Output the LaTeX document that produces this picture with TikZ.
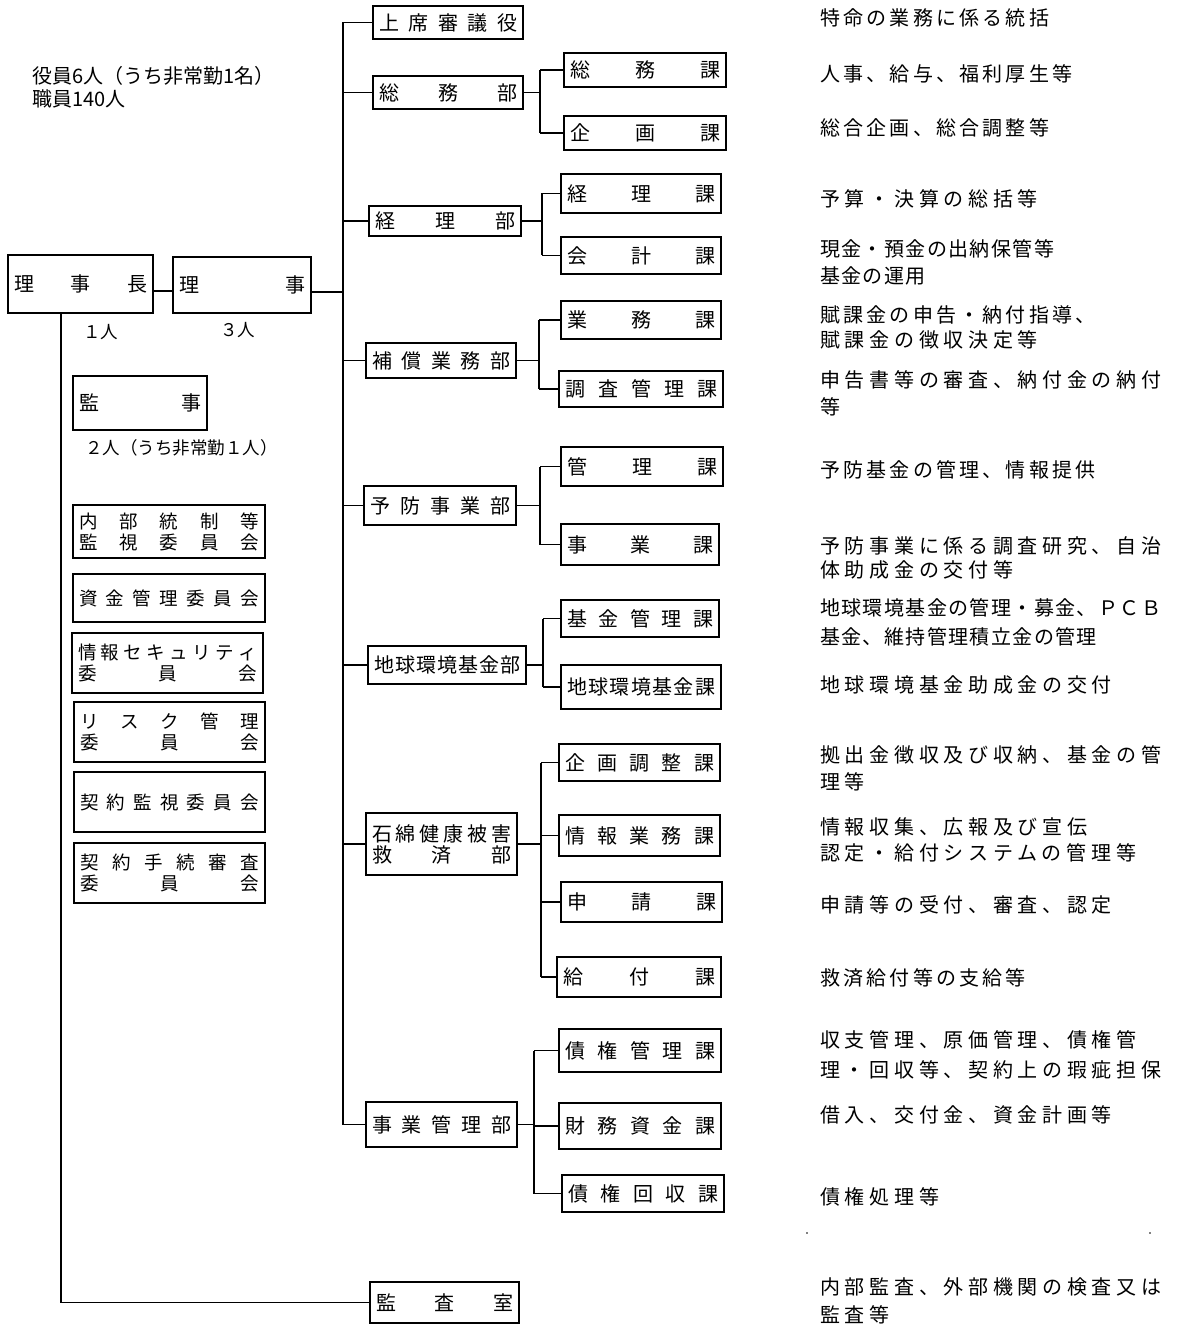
\documentclass[tikz,border=0pt]{standalone}
\usepackage{fontspec}
\setmainfont{Noto Sans CJK JP}
\newfontfamily\rA[LetterSpace=23.5]{Noto Sans CJK JP}
\newfontfamily\rB[LetterSpace=16]{Noto Sans CJK JP}
\newfontfamily\rC[LetterSpace=7]{Noto Sans CJK JP}
\newcommand\rowx[1]{\hbox to \tw pt{#1}}
\newcommand\tworow[2]{\vbox{\baselineskip=21pt\lineskiplimit=-20pt\rowx{#1}\rowx{#2}}}
\newcommand\bx[7][box]{%
  \pgfmathsetmacro\bw{#5-#3}%
  \pgfmathsetmacro\bh{#6-#4}%
  \pgfmathsetmacro\tw{#5-#3-12}%
  \node[#1,minimum width=\bw pt,minimum height=\bh pt] (#2) at ({(#3+#5)/2},{(#4+#6)/2}) {#7};}
\newcommand\grp[5]{% parent, bracket x, first, last, children
  \coordinate (B) at (#2,0);
  \draw[conn] (#1.east) -- (B |- #1.east);
  \draw[conn] (B |- #3.west) -- (B |- #4.west);
  \foreach \c in {#5} {\draw[conn] (B |- \c.west) -- (\c.west);}}
\begin{document}
\begin{tikzpicture}[x=1pt,y=-1pt,
  box/.style={draw,line width=1.3pt,inner sep=0pt,font=\fontsize{20}{21}\selectfont},
  cbox/.style={box,font=\fontsize{18.5}{21}\selectfont},
  conn/.style={line width=1.4pt},
  dA/.style={anchor=west,inner sep=0pt,font={\rA\fontsize{20}{24}\selectfont}},
  dB/.style={anchor=west,inner sep=0pt,font={\rB\fontsize{20}{24}\selectfont}},
  dC/.style={anchor=west,inner sep=0pt,font={\rC\fontsize{20}{24}\selectfont}},
  note/.style={anchor=west,inner sep=0pt,font=\fontsize{20}{24}\selectfont},
  small/.style={anchor=west,inner sep=0pt,font=\fontsize{17.5}{20}\selectfont}]
\useasboundingbox (0,0) rectangle (1177,1329);
\fill[white] (0,0) rectangle (1177,1329);

% header text
\node[note] (hd1) at (32,76) {役員6人（うち非常勤1名）};
\node[note] (hd2) at (32,99) {職員140人};

% executives
\bx{rijicho}{8}{255}{153}{313}{\rowx{理\hfill 事\hfill 長}}
\bx{riji}{173}{257}{311}{313}{\rowx{理\hfill 事}}
\node[small] (n1) at (83,332) {１人};
\node[small] (n3) at (220,330) {３人};
\bx{kanji}{73}{376}{207}{430}{\rowx{監\hfill 事}}
\node[small] (n2) at (85,448) {２人（うち非常勤１人）};

% committees
\bx[cbox]{c1}{73}{505}{265}{558}{\tworow{内\hfill 部\hfill 統\hfill 制\hfill 等}{監\hfill 視\hfill 委\hfill 員\hfill 会}}
\bx[cbox]{c2}{73}{574}{265}{622}{\rowx{資\hfill 金\hfill 管\hfill 理\hfill 委\hfill 員\hfill 会}}
\bx[cbox]{c3}{72}{633}{263}{693}{\tworow{情\hfill 報\hfill セ\hfill キ\hfill ュ\hfill リ\hfill テ\hfill ィ}{委\hfill 員\hfill 会}}
\bx[cbox]{c4}{74}{702}{265}{762}{\tworow{リ\hfill ス\hfill ク\hfill 管\hfill 理}{委\hfill 員\hfill 会}}
\bx[cbox]{c5}{74}{772}{265}{832}{\rowx{契\hfill 約\hfill 監\hfill 視\hfill 委\hfill 員\hfill 会}}
\bx[cbox]{c6}{74}{843}{265}{903}{\tworow{契\hfill 約\hfill 手\hfill 続\hfill 審\hfill 査}{委\hfill 員\hfill 会}}

% departments
\bx{jseki}{373}{6}{523}{39}{\rowx{上\hfill 席\hfill 審\hfill 議\hfill 役}}
\bx{somubu}{373}{76}{523}{109}{\rowx{総\hfill 務\hfill 部}}
\bx{keiribu}{369}{206}{521}{236}{\rowx{経\hfill 理\hfill 部}}
\bx{hosho}{366}{343}{516}{378}{\rowx{補\hfill 償\hfill 業\hfill 務\hfill 部}}
\bx{yobo}{364}{486}{516}{525}{\rowx{予\hfill 防\hfill 事\hfill 業\hfill 部}}
\bx{chikyu}{368}{646}{526}{684}{\rowx{地\hfill 球\hfill 環\hfill 境\hfill 基\hfill 金\hfill 部}}
\bx{sekimen}{366}{813}{517}{875}{\tworow{石\hfill 綿\hfill 健\hfill 康\hfill 被\hfill 害}{救\hfill 済\hfill 部}}
\bx{jigyokanri}{366}{1102}{517}{1147}{\rowx{事\hfill 業\hfill 管\hfill 理\hfill 部}}
\bx{kansa}{370}{1282}{519}{1323}{\rowx{監\hfill 査\hfill 室}}

% sections
\bx{somuka}{564}{53}{726}{87}{\rowx{総\hfill 務\hfill 課}}
\bx{kikakuka}{564}{116}{726}{150}{\rowx{企\hfill 画\hfill 課}}
\bx{keirika}{561}{174}{721}{213}{\rowx{経\hfill 理\hfill 課}}
\bx{kaikeika}{561}{237}{721}{274}{\rowx{会\hfill 計\hfill 課}}
\bx{gyomuka}{561}{301}{721}{339}{\rowx{業\hfill 務\hfill 課}}
\bx{chosa}{559}{371}{723}{407}{\rowx{調\hfill 査\hfill 管\hfill 理\hfill 課}}
\bx{kanrika}{561}{447}{723}{486}{\rowx{管\hfill 理\hfill 課}}
\bx{jigyoka}{561}{524}{719}{565}{\rowx{事\hfill 業\hfill 課}}
\bx{kikin}{561}{600}{719}{637}{\rowx{基\hfill 金\hfill 管\hfill 理\hfill 課}}
\bx{chikyuka}{561}{665}{721}{709}{\rowx{地\hfill 球\hfill 環\hfill 境\hfill 基\hfill 金\hfill 課}}
\bx{kikakuchosei}{559}{744}{720}{781}{\rowx{企\hfill 画\hfill 調\hfill 整\hfill 課}}
\bx{joho}{559}{815}{720}{856}{\rowx{情\hfill 報\hfill 業\hfill 務\hfill 課}}
\bx{shinsei}{561}{882}{722}{922}{\rowx{申\hfill 請\hfill 課}}
\bx{kyufu}{557}{957}{721}{997}{\rowx{給\hfill 付\hfill 課}}
\bx{saiken}{559}{1029}{721}{1072}{\rowx{債\hfill 権\hfill 管\hfill 理\hfill 課}}
\bx{zaimu}{559}{1103}{721}{1149}{\rowx{財\hfill 務\hfill 資\hfill 金\hfill 課}}
\bx{kaishu}{562}{1175}{724}{1212}{\rowx{債\hfill 権\hfill 回\hfill 収\hfill 課}}

% connectors
\coordinate (T) at (343,0);
\coordinate (V) at (61,0);
\coordinate (rl) at ([yshift=-7pt]rijicho.east);
\coordinate (rr) at ([yshift=-7pt]riji.east);
\draw[conn] (rl) -- (riji.west |- rl);
\draw[conn] (rr) -- (T |- rr);
\draw[conn] (T |- jseki.west) -- (T |- jigyokanri.west);
\foreach \n in {jseki,somubu,keiribu,hosho,yobo,chikyu,sekimen,jigyokanri}
  {\draw[conn] (T |- \n.west) -- (\n.west);}
\grp{somubu}{540}{somuka}{kikakuka}{somuka,kikakuka}
\grp{keiribu}{542}{keirika}{kaikeika}{keirika,kaikeika}
\grp{hosho}{539}{gyomuka}{chosa}{gyomuka,chosa}
\grp{yobo}{540}{kanrika}{jigyoka}{kanrika,jigyoka}
\grp{chikyu}{543}{kikin}{chikyuka}{kikin,chikyuka}
\grp{sekimen}{541}{kikakuchosei}{kyufu}{kikakuchosei,joho,shinsei,kyufu}
\grp{jigyokanri}{534}{saiken}{kaishu}{saiken,zaimu,kaishu}
\draw[line width=1.1pt] (V |- rijicho.south) |- (kansa.west);

% descriptions
\node[dB] (t1) at (820,18) {特命の業務に係る統括};
\node[dB] (t2) at (820,74) {人事、給与、福利厚生等};
\node[dB] (t3) at (820,128) {総合企画、総合調整等};
\node[dA] (t4) at (820,199) {予算・決算の総括等};
\node[dC] (t5) at (820,249) {現金・預金の出納保管等};
\node[dC] (t5b) at (820,276) {基金の運用};
\node[dB] (t6) at (820,315) {賦課金の申告・納付指導、};
\node[dA] (t6b) at (820,340) {賦課金の徴収決定等};
\node[dA] (t7) at (820,380) {申告書等の審査、納付金の納付};
\node[dA] (t7b) at (820,407) {等};
\node[dB] (t8) at (820,470) {予防基金の管理、情報提供};
\node[dA] (t9) at (820,546) {予防事業に係る調査研究、自治};
\node[dA] (t9b) at (820,570) {体助成金の交付等};
\node[dC] (t10) at (820,608) {地球環境基金の管理・募金、ＰＣＢ};
\node[dC] (t10b) at (820,637) {基金、維持管理積立金の管理};
\node[dA] (t11) at (820,685) {地球環境基金助成金の交付};
\node[dA] (t12) at (820,755) {拠出金徴収及び収納、基金の管};
\node[dA] (t12b) at (820,782) {理等};
\node[dA] (t13) at (820,827) {情報収集、広報及び宣伝};
\node[dA] (t13b) at (820,853) {認定・給付システムの管理等};
\node[dA] (t14) at (820,905) {申請等の受付、審査、認定};
\node[dB] (t15) at (820,978) {救済給付等の支給等};
\node[dA] (t16) at (820,1040) {収支管理、原価管理、債権管};
\node[dA] (t16b) at (820,1070) {理・回収等、契約上の瑕疵担保};
\node[dA] (t17) at (820,1115) {借入、交付金、資金計画等};
\node[dA] (t18) at (820,1197) {債権処理等};
\node[dA] (t19) at (820,1287) {内部監査、外部機関の検査又は};
\node[dA] (t19b) at (820,1315) {監査等};
\fill (807,1233) circle[radius=0.8pt];
\fill (1150,1233) circle[radius=0.8pt];
\end{tikzpicture}
\end{document}
